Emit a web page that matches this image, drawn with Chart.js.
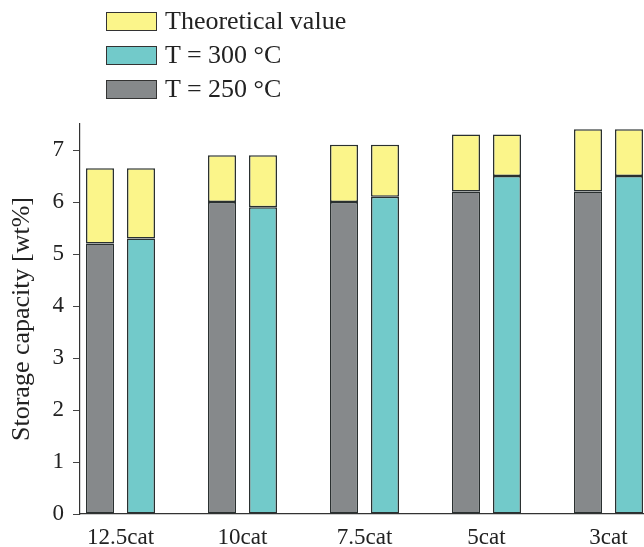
<!DOCTYPE html>
<html>
<head>
<meta charset="utf-8">
<script src="https://cdn.jsdelivr.net/npm/chart.js@4.4.1/dist/chart.umd.min.js"></script>
<style>
  html, body { margin: 0; padding: 0; background: #fff; }
  #wrap { position: relative; width: 644px; height: 547px; }
  #legend { position: absolute; left: 106px; top: 4px; font-family: 'Liberation Serif', 'Times New Roman', serif; font-size: 26px; color: #222; }
  .row { display: flex; align-items: center; height: 34px; }
  .box { width: 51px; height: 19px; border: 1px solid #333; margin-right: 8px; box-sizing: border-box; }
</style>
</head>
<body>
<div id="wrap">
  <canvas id="chart" width="644" height="547"></canvas>
  <div id="legend"></div>
</div>
<script>
// categories and values
const categories = ['12.5cat', '10cat', '7.5cat', '5cat', '3cat'];
const t250 = [5.2, 6.0, 6.0, 6.2, 6.2];
const t300 = [5.3, 5.9, 6.1, 6.5, 6.5];
const theoretical = [6.65, 6.9, 7.1, 7.3, 7.4];

const GRAY = '#86898b';
const TEAL = '#72caca';
const YELLOW = '#fbf58a';
const EDGE = '#2a3030';
const SERIF = "'Liberation Serif', 'Times New Roman', serif";

// legend drawn as html (vertical list at top left)
const legendItems = [
    ['Theoretical value', YELLOW],
    ['T = 300 °C', TEAL],
    ['T = 250 °C', GRAY]
];
document.getElementById('legend').innerHTML = legendItems.map(([txt, col]) =>
    `<div class="row"><div class="box" style="background:${col}"></div><span>${txt}</span></div>`
).join('');

const pts = arr => arr.map((v, i) => ({ x: i, y: v }));
const rest = base => theoretical.map((t, i) => ({ x: i, y: +(t - base[i]).toFixed(2) }));

const barStyle = { borderColor: EDGE, borderWidth: 1.5, borderSkipped: false, categoryPercentage: 0.672, barPercentage: 0.683 };

new Chart(document.getElementById('chart').getContext('2d'), {
    type: 'bar',
    data: {
        datasets: [
            { label: 'T = 250 °C', data: pts(t250), backgroundColor: GRAY, stack: 'a', ...barStyle },
            { label: 'Theoretical value', data: rest(t250), backgroundColor: YELLOW, stack: 'a', ...barStyle },
            { label: 'T = 300 °C', data: pts(t300), backgroundColor: TEAL, stack: 'b', ...barStyle },
            { label: 'Theoretical value ', data: rest(t300), backgroundColor: YELLOW, stack: 'b', ...barStyle }
        ]
    },
    options: {
        responsive: false,
        animation: false,
        layout: { padding: { top: 124, right: 0, left: 0, bottom: 0 } },
        plugins: { legend: { display: false }, tooltip: { enabled: false } },
        scales: {
            x: {
                type: 'linear',
                offset: false,
                min: -0.332,
                max: 4.291,
                grid: { display: false },
                border: { display: true, color: '#333', width: 1.2 },
                afterBuildTicks: axis => { axis.ticks = categories.map((c, i) => ({ value: i })); },
                afterFit: axis => { axis.height = 33; },
                ticks: {
                    autoSkip: false,
                    maxRotation: 0,
                    padding: 2,
                    color: '#222',
                    font: { family: SERIF, size: 23 },
                    callback: v => categories[v]
                }
            },
            y: {
                stacked: true,
                min: 0,
                max: 7.5,
                grid: { drawOnChartArea: false, drawTicks: true, tickLength: 7, color: '#444' },
                border: { display: true, color: '#333', width: 1.2 },
                afterFit: axis => { axis.width = 80; },
                title: {
                    display: true,
                    text: 'Storage capacity [wt%]',
                    color: '#222',
                    font: { family: SERIF, size: 26 },
                    padding: { top: 7, bottom: 0 }
                },
                ticks: {
                    stepSize: 0.5,
                    padding: 9,
                    color: '#222',
                    font: { family: SERIF, size: 23 },
                    callback: v => (v % 1 === 0 && v < 7.5) ? v : ''
                }
            }
        }
    }
});
</script>
</body>
</html>
